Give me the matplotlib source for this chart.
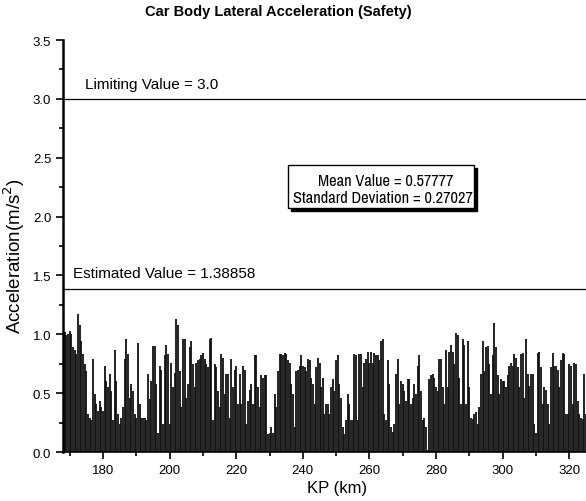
import numpy as np
import matplotlib as mpl
mpl.use('Agg')
import matplotlib.pyplot as plt
from matplotlib.patches import Rectangle
from matplotlib.ticker import MultipleLocator

# lateral acceleration peaks (m/s^2), sampled every 0.5 km from KP 168
kp_start = 168.0
kp_step = 0.5
acc_168_194 = [1.01, 1.02, 0.99, 1.00, 1.03, 1.00, 0.89, 0.87, 0.83, 1.17,
               1.08, 0.94, 0.83, 0.75, 0.69, 0.32, 0.29, 0.27, 0.79, 0.49,
               0.41, 0.35, 0.43, 0.38, 0.35, 0.73, 0.60, 0.55, 0.66, 0.52,
               0.27, 0.87, 0.60, 0.32, 0.24, 0.29, 0.38, 0.79, 0.96, 0.83,
               0.46, 0.58, 0.52, 0.32, 0.29, 0.93, 0.41, 0.29, 0.29, 0.29,
               0.27, 0.66, 0.45]
acc_194_221 = [0.60, 0.90, 0.90, 0.58, 0.16, 0.73, 0.70, 0.24, 0.82, 0.91,
               0.83, 0.24, 0.76, 0.55, 0.67, 1.13, 1.08, 0.69, 0.38, 0.96,
               0.96, 0.46, 0.58, 0.89, 0.94, 0.75, 0.55, 0.76, 0.78, 0.79,
               0.82, 0.84, 0.79, 0.75, 0.72, 0.96, 0.97, 0.27, 0.75, 0.72,
               0.52, 0.38, 0.83, 0.80, 0.49, 0.66, 0.66, 0.29, 0.79, 0.55,
               0.70, 0.73, 0.41]
acc_221_247 = [0.66, 0.41, 0.73, 0.70, 0.24, 0.43, 0.53, 0.58, 0.41, 0.82,
               0.82, 0.55, 0.38, 0.65, 0.63, 0.65, 0.65, 0.15, 0.16, 0.21,
               0.16, 0.49, 0.38, 0.69, 0.83, 0.83, 0.82, 0.84, 0.83, 0.78,
               0.76, 0.58, 0.49, 0.21, 0.69, 0.70, 0.73, 0.82, 0.73, 0.72,
               0.69, 0.79, 0.78, 0.63, 0.58, 0.41, 0.72, 0.80, 0.76, 0.55,
               0.63, 0.32, 0.41]
acc_247_273 = [0.41, 0.32, 0.55, 0.62, 0.52, 0.78, 0.82, 0.58, 0.46, 0.21,
               0.15, 0.27, 0.49, 0.41, 0.27, 0.27, 0.83, 0.82, 0.27, 0.83,
               0.83, 0.55, 0.76, 0.79, 0.85, 0.76, 0.85, 0.76, 0.84, 0.82,
               0.82, 0.78, 0.94, 0.96, 0.32, 0.27, 0.78, 0.58, 0.21, 0.17,
               0.24, 0.66, 0.79, 0.41, 0.60, 0.58, 0.52, 0.43, 0.62, 0.62,
               0.41, 0.46, 0.58]
acc_273_300 = [0.49, 0.73, 0.82, 0.52, 0.27, 0.29, 0.21, 0.02, 0.62, 0.65,
               0.66, 0.63, 0.55, 0.52, 0.79, 0.79, 0.55, 0.41, 0.87, 0.55,
               0.85, 0.91, 0.85, 0.75, 1.01, 0.99, 0.63, 0.41, 0.96, 0.91,
               0.41, 0.94, 0.55, 0.29, 0.28, 0.32, 0.34, 0.24, 0.38, 0.66,
               0.94, 0.69, 0.89, 0.90, 0.75, 0.49, 0.82, 1.10, 0.89, 0.65,
               0.49, 0.62, 0.60]
acc_300_325 = [0.60, 0.55, 0.65, 0.73, 0.76, 0.73, 0.83, 0.80, 0.72, 0.55,
               0.83, 0.84, 0.46, 0.96, 0.66, 0.56, 0.66, 0.66, 0.24, 0.16,
               0.84, 0.85, 0.72, 0.41, 0.55, 0.53, 0.41, 0.24, 0.72, 0.84,
               0.73, 0.73, 0.70, 0.55, 0.78, 0.84, 0.83, 0.32, 0.32, 0.75,
               0.73, 0.41, 0.76, 0.75, 0.43, 0.32, 0.29, 0.28, 0.66, 0.32]

limiting_value = 3.0
estimated_value = 1.38858
mean_value = 0.57777
std_value = 0.27027

acc = np.array(acc_168_194 + acc_194_221 + acc_221_247
               + acc_247_273 + acc_273_300 + acc_300_325)
kp = kp_start + kp_step * np.arange(len(acc))

plt.rcParams['font.family'] = ['Liberation Sans', 'DejaVu Sans']
narrow = ['Archivo Narrow', 'Liberation Sans', 'DejaVu Sans']

fig = plt.figure(figsize=(5.86, 5.02), dpi=100)
ax = fig.add_axes([0.1075, 0.0976, 0.8925, 0.8207])

ax.vlines(kp, 0, acc, color='#111111', lw=1.3)

ax.axhline(limiting_value, color='k', lw=0.9)
ax.axhline(estimated_value, color='k', lw=0.9)

ax.text(174.5, limiting_value + 0.07, "Limiting Value = %.1f" % limiting_value,
        fontsize=11, va='bottom')
ax.text(171.0, estimated_value + 0.07, "Estimated Value = %.5f" % estimated_value,
        fontsize=11, va='bottom')

ax.set_xlim(168, 325)
ax.set_ylim(0, 3.5)
ax.xaxis.set_major_locator(MultipleLocator(20))
ax.xaxis.set_minor_locator(MultipleLocator(10))
ax.yaxis.set_major_locator(MultipleLocator(0.5))
ax.yaxis.set_minor_locator(MultipleLocator(0.25))
ax.tick_params(which='both', direction='out', labelsize=9.5, width=1.2)
ax.tick_params(which='major', length=5)
ax.tick_params(which='minor', length=3)

ax.spines['top'].set_visible(False)
ax.spines['right'].set_visible(False)
ax.spines['left'].set_linewidth(1.8)
ax.spines['bottom'].set_linewidth(1.2)

ax.set_xlabel("KP (km)", fontsize=12)
ax.xaxis.set_label_coords(0.524, -0.068)
ax.set_ylabel("Acceleration(m/s$^2$)", fontsize=13.5)
ax.yaxis.set_label_coords(-0.069, 0.478)

fig.text(0.475, 0.976, "Car Body Lateral Acceleration (Safety)",
         fontsize=10.5, fontweight='bold', ha='center', va='center')

# statistics box with drop shadow
box_x, box_y, box_w, box_h = 288 / 586, 1 - 209 / 502, 186 / 586, 43 / 502
fig.patches.append(Rectangle((box_x + 3 / 586, box_y - 3 / 502), box_w, box_h,
                             transform=fig.transFigure, fc='k', ec='k', zorder=5))
fig.patches.append(Rectangle((box_x, box_y), box_w, box_h,
                             transform=fig.transFigure, fc='white', ec='k', lw=1.0, zorder=6))
fig.text(386 / 586, 1 - 182 / 502, "Mean Value = %.5f" % mean_value,
         fontsize=11.8, family=narrow, ha='center', va='center', zorder=7)
fig.text(383 / 586, 1 - 199 / 502, "Standard Deviation = %.5f" % std_value,
         fontsize=11.8, family=narrow, ha='center', va='center', zorder=7)

fig.savefig("out.png", dpi=100)
